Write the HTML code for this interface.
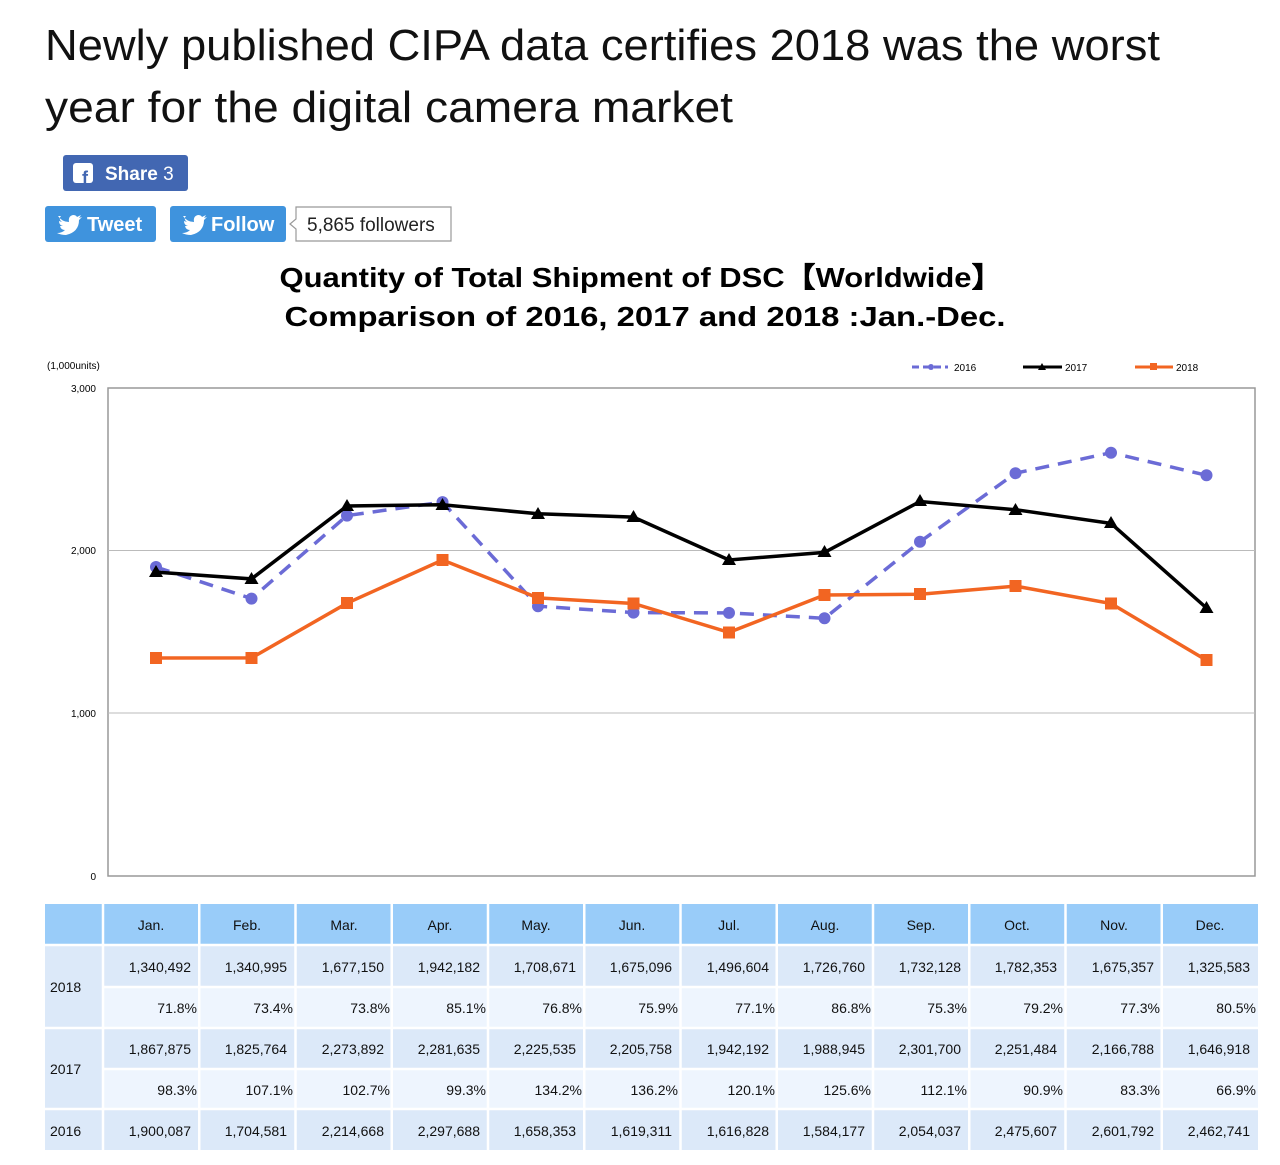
<!DOCTYPE html>
<html><head><meta charset="utf-8"><style>body{margin:0;background:#fff}svg{display:block}</style></head><body>
<svg width="1280" height="1165" xmlns="http://www.w3.org/2000/svg" font-family="Liberation Sans, Arial, sans-serif">
<text x="45" y="60" font-size="44" fill="#111" textLength="1115" lengthAdjust="spacingAndGlyphs">Newly published CIPA data certifies 2018 was the worst</text>
<text x="45" y="122" font-size="44" fill="#111" textLength="688" lengthAdjust="spacingAndGlyphs">year for the digital camera market</text>
<!-- buttons -->
<rect x="63" y="155" width="125" height="36" rx="3" fill="#4267b2"/>
<rect x="73" y="163" width="20" height="20" rx="3" fill="#fff"/>
<text x="82" y="184" font-size="18" font-weight="bold" fill="#4267b2">f</text>
<text x="105" y="180" font-size="19" font-weight="bold" fill="#fff">Share <tspan font-weight="normal">3</tspan></text>
<rect x="45" y="206" width="111" height="36" rx="3" fill="#3f93dd"/>
<path d="M58 216 q4 6 11 6 q-1-6 4-7 q3 0 4 2 l4-2 l-2 3 l3-1 l-3 3 q0 12-13 15 q-5 0-9-2 q5 0 8-3 q-4 0-5-4 h3 q-4-1-4-5 l3 1 q-4-3-1-6z" fill="#fff"/>
<text x="87" y="231" font-size="20" font-weight="bold" fill="#fff">Tweet</text>
<rect x="170" y="206" width="116" height="36" rx="3" fill="#3f93dd"/>
<path d="M183 216 q4 6 11 6 q-1-6 4-7 q3 0 4 2 l4-2 l-2 3 l3-1 l-3 3 q0 12-13 15 q-5 0-9-2 q5 0 8-3 q-4 0-5-4 h3 q-4-1-4-5 l3 1 q-4-3-1-6z" fill="#fff"/>
<text x="211" y="231" font-size="20" font-weight="bold" fill="#fff">Follow</text>
<path d="M296 207 H451 V241 H296 V229 L290 224 L296 219 Z" fill="#fff" stroke="#999" stroke-width="1.2"/>
<text x="307" y="231" font-size="19" fill="#222">5,865 followers</text>
<!-- chart title -->
<text x="641" y="287" font-size="28" font-weight="bold" fill="#000" text-anchor="middle" textLength="723" lengthAdjust="spacingAndGlyphs">Quantity of Total Shipment of DSC【Worldwide】</text>
<text x="645" y="326" font-size="28" font-weight="bold" fill="#000" text-anchor="middle" textLength="721" lengthAdjust="spacingAndGlyphs">Comparison of 2016, 2017 and 2018 :Jan.-Dec.</text>
<text x="47" y="369" font-size="10" fill="#000">(1,000units)</text>
<!-- legend -->
<g font-size="10" fill="#000">
<line x1="912" y1="367" x2="948" y2="367" stroke="#6b6bd6" stroke-width="3" stroke-dasharray="7,4"/><circle cx="931" cy="367" r="3" fill="#6b6bd6"/><text x="954" y="371">2016</text>
<line x1="1023" y1="367" x2="1062" y2="367" stroke="#000" stroke-width="3"/><path d="M1042 363 L1046 370 L1038 370 Z"/><text x="1065" y="371">2017</text>
<line x1="1135" y1="367" x2="1173" y2="367" stroke="#f26522" stroke-width="3"/><rect x="1150" y="363" width="7" height="7" fill="#f26522"/><text x="1176" y="371">2018</text>
</g>
<!-- axes -->
<rect x="108" y="388" width="1147" height="488" fill="#fff" stroke="#999" stroke-width="1.5"/>
<line x1="108" y1="550.5" x2="1255" y2="550.5" stroke="#bbb"/>
<line x1="108" y1="713" x2="1255" y2="713" stroke="#bbb"/>
<g font-size="10" fill="#000" text-anchor="end">
<text x="96" y="392">3,000</text><text x="96" y="554">2,000</text><text x="96" y="717">1,000</text><text x="96" y="880">0</text>
</g>
<!-- series -->
<polyline fill="none" stroke="#6b6bd6" stroke-width="3.5" stroke-dasharray="14,9" points="156,567 251.5,598.6 347,515.6 442.5,502.1 538,606.2 633.5,612.6 729,612.9 824.5,618.3 920,541.8 1015.5,473.2 1111,452.7 1206.5,475.3"/>
<g fill="#6b6bd6"><circle cx="156" cy="567" r="6"/><circle cx="251.5" cy="598.6" r="6"/><circle cx="347" cy="515.6" r="6"/><circle cx="442.5" cy="502.1" r="6"/><circle cx="538" cy="606.2" r="6"/><circle cx="633.5" cy="612.6" r="6"/><circle cx="729" cy="612.9" r="6"/><circle cx="824.5" cy="618.3" r="6"/><circle cx="920" cy="541.8" r="6"/><circle cx="1015.5" cy="473.2" r="6"/><circle cx="1111" cy="452.7" r="6"/><circle cx="1206.5" cy="475.3" r="6"/></g>
<polyline fill="none" stroke="#000" stroke-width="3.5" points="156,572.1 251.5,578.9 347,506 442.5,504.7 538,513.8 633.5,517.1 729,560 824.5,552.4 920,501.5 1015.5,509.7 1111,523.4 1206.5,608"/>
<g fill="#000">
<path d="M156 565 l7 12 h-14z"/><path d="M251.5 572 l7 12 h-14z"/><path d="M347 499 l7 12 h-14z"/><path d="M442.5 498 l7 12 h-14z"/><path d="M538 507 l7 12 h-14z"/><path d="M633.5 510 l7 12 h-14z"/><path d="M729 553 l7 12 h-14z"/><path d="M824.5 545 l7 12 h-14z"/><path d="M920 494 l7 12 h-14z"/><path d="M1015.5 503 l7 12 h-14z"/><path d="M1111 516 l7 12 h-14z"/><path d="M1206.5 601 l7 12 h-14z"/>
</g>
<polyline fill="none" stroke="#f26522" stroke-width="3.5" points="156,658 251.5,657.9 347,603.2 442.5,560 538,597.9 633.5,603.5 729,632.4 824.5,595 920,594.2 1015.5,586.1 1111,603.5 1206.5,660.3"/>
<g fill="#f26522">
<rect x="150" y="652" width="12" height="12"/><rect x="245.5" y="652" width="12" height="12"/><rect x="341" y="597" width="12" height="12"/><rect x="436.5" y="554" width="12" height="12"/><rect x="532" y="592" width="12" height="12"/><rect x="627.5" y="597.5" width="12" height="12"/><rect x="723" y="626.5" width="12" height="12"/><rect x="818.5" y="589" width="12" height="12"/><rect x="914" y="588" width="12" height="12"/><rect x="1009.5" y="580" width="12" height="12"/><rect x="1105" y="597.5" width="12" height="12"/><rect x="1200.5" y="654" width="12" height="12"/>
</g>
<!-- table -->
<rect x="45" y="904" width="1213" height="40" fill="#99ccf9"/>
<rect x="45" y="946" width="1213" height="41" fill="#dce9f9"/>
<rect x="103" y="987" width="1155" height="41" fill="#eef5fe"/>
<rect x="45" y="987" width="58" height="41" fill="#dce9f9"/>
<rect x="45" y="1028" width="1213" height="41" fill="#dce9f9"/>
<rect x="103" y="1069" width="1155" height="40" fill="#eef5fe"/>
<rect x="45" y="1069" width="58" height="40" fill="#dce9f9"/>
<rect x="45" y="1109" width="1213" height="41" fill="#dce9f9"/>
<g stroke="#fff" stroke-width="2.5">
<line x1="45" y1="945" x2="1258" y2="945"/>
<line x1="103" y1="987" x2="1258" y2="987"/>
<line x1="45" y1="1028" x2="1258" y2="1028"/>
<line x1="103" y1="1069" x2="1258" y2="1069"/>
<line x1="45" y1="1109" x2="1258" y2="1109"/>
<line x1="103" y1="904" x2="103" y2="1150"/><line x1="199.25" y1="904" x2="199.25" y2="1150"/><line x1="295.5" y1="904" x2="295.5" y2="1150"/><line x1="391.75" y1="904" x2="391.75" y2="1150"/><line x1="488" y1="904" x2="488" y2="1150"/><line x1="584.25" y1="904" x2="584.25" y2="1150"/><line x1="680.5" y1="904" x2="680.5" y2="1150"/><line x1="776.75" y1="904" x2="776.75" y2="1150"/><line x1="873" y1="904" x2="873" y2="1150"/><line x1="969.25" y1="904" x2="969.25" y2="1150"/><line x1="1065.5" y1="904" x2="1065.5" y2="1150"/><line x1="1161.75" y1="904" x2="1161.75" y2="1150"/>
</g>
<g font-size="14" fill="#111">
<g text-anchor="middle">
<text x="151" y="930">Jan.</text><text x="247" y="930">Feb.</text><text x="344" y="930">Mar.</text><text x="440" y="930">Apr.</text><text x="536" y="930">May.</text><text x="632" y="930">Jun.</text><text x="729" y="930">Jul.</text><text x="825" y="930">Aug.</text><text x="921" y="930">Sep.</text><text x="1017" y="930">Oct.</text><text x="1114" y="930">Nov.</text><text x="1210" y="930">Dec.</text>
</g>
<text x="50" y="992">2018</text><text x="50" y="1074">2017</text><text x="50" y="1136">2016</text>
<g text-anchor="end">
<text x="191" y="972">1,340,492</text><text x="287" y="972">1,340,995</text><text x="384" y="972">1,677,150</text><text x="480" y="972">1,942,182</text><text x="576" y="972">1,708,671</text><text x="672" y="972">1,675,096</text><text x="769" y="972">1,496,604</text><text x="865" y="972">1,726,760</text><text x="961" y="972">1,732,128</text><text x="1057" y="972">1,782,353</text><text x="1154" y="972">1,675,357</text><text x="1250" y="972">1,325,583</text>
<text x="197" y="1013">71.8%</text><text x="293" y="1013">73.4%</text><text x="390" y="1013">73.8%</text><text x="486" y="1013">85.1%</text><text x="582" y="1013">76.8%</text><text x="678" y="1013">75.9%</text><text x="775" y="1013">77.1%</text><text x="871" y="1013">86.8%</text><text x="967" y="1013">75.3%</text><text x="1063" y="1013">79.2%</text><text x="1160" y="1013">77.3%</text><text x="1256" y="1013">80.5%</text>
<text x="191" y="1054">1,867,875</text><text x="287" y="1054">1,825,764</text><text x="384" y="1054">2,273,892</text><text x="480" y="1054">2,281,635</text><text x="576" y="1054">2,225,535</text><text x="672" y="1054">2,205,758</text><text x="769" y="1054">1,942,192</text><text x="865" y="1054">1,988,945</text><text x="961" y="1054">2,301,700</text><text x="1057" y="1054">2,251,484</text><text x="1154" y="1054">2,166,788</text><text x="1250" y="1054">1,646,918</text>
<text x="197" y="1095">98.3%</text><text x="293" y="1095">107.1%</text><text x="390" y="1095">102.7%</text><text x="486" y="1095">99.3%</text><text x="582" y="1095">134.2%</text><text x="678" y="1095">136.2%</text><text x="775" y="1095">120.1%</text><text x="871" y="1095">125.6%</text><text x="967" y="1095">112.1%</text><text x="1063" y="1095">90.9%</text><text x="1160" y="1095">83.3%</text><text x="1256" y="1095">66.9%</text>
<text x="191" y="1136">1,900,087</text><text x="287" y="1136">1,704,581</text><text x="384" y="1136">2,214,668</text><text x="480" y="1136">2,297,688</text><text x="576" y="1136">1,658,353</text><text x="672" y="1136">1,619,311</text><text x="769" y="1136">1,616,828</text><text x="865" y="1136">1,584,177</text><text x="961" y="1136">2,054,037</text><text x="1057" y="1136">2,475,607</text><text x="1154" y="1136">2,601,792</text><text x="1250" y="1136">2,462,741</text>
</g>
</g>
</svg>
</body></html>
